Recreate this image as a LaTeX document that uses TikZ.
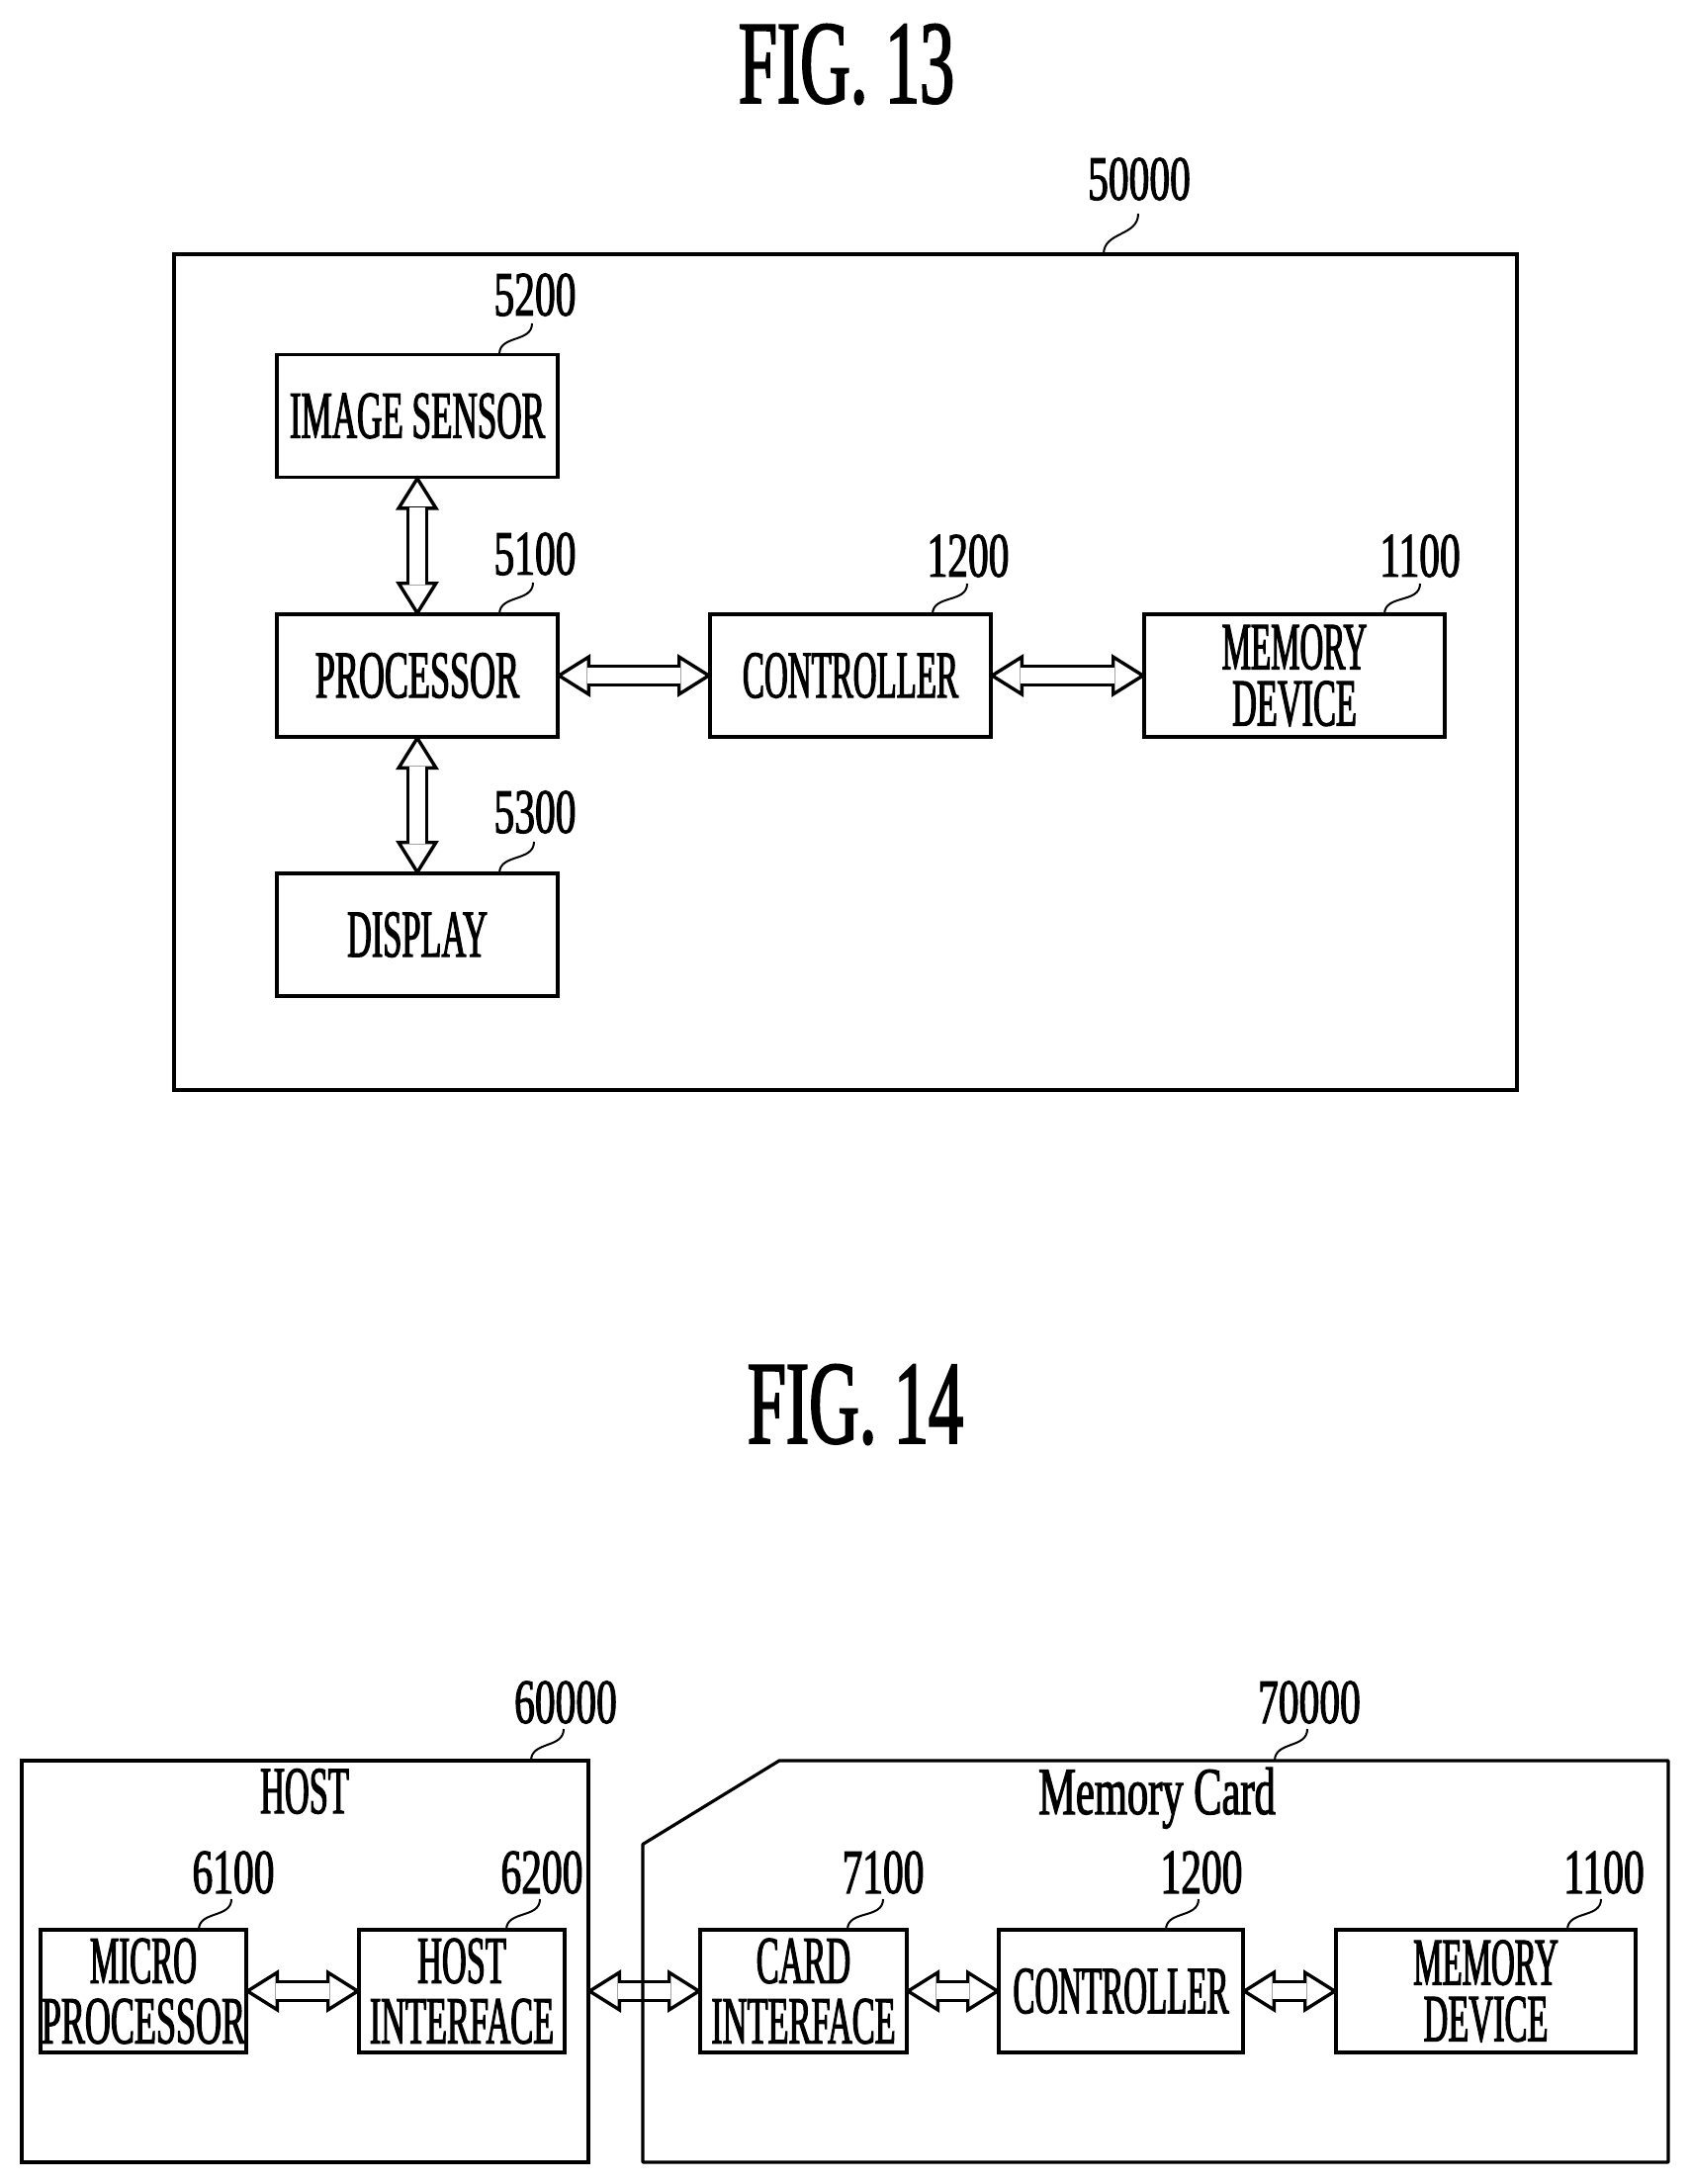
\documentclass[tikz,border=0pt]{standalone}
\usepackage{fontspec}
\usetikzlibrary{arrows.meta,calc}
\newfontfamily\capfont[FakeStretch=0.505,FakeBold=1.6]{Liberation Serif}
\newfontfamily\capm[FakeStretch=0.516,FakeBold=1.6]{Liberation Serif}
\newfontfamily\capw[FakeStretch=0.53,FakeBold=1.6]{Liberation Serif}
\newfontfamily\capn[FakeStretch=0.485,FakeBold=1.6]{Liberation Serif}
\newfontfamily\numfont[FakeStretch=0.648,FakeBold=1.6]{Liberation Serif}
\newfontfamily\ttlfont[FakeStretch=0.585,FakeBold=1.6]{Liberation Serif}
\newfontfamily\lowfont[FakeStretch=0.625,FakeBold=1.6]{Liberation Serif}
\tikzset{
  outerbox/.style={draw=black,line width=3.2pt,rectangle,inner sep=0pt,outer sep=0pt,anchor=north west},
  blockbox/.style={draw=black,line width=3.2pt,rectangle,inner sep=0pt,outer sep=0pt,align=center,
    font=\fontsize{68}{57}\capfont\selectfont},
  reflabel/.style={inner sep=0pt,outer sep=0pt,font=\fontsize{64}{64}\numfont\selectfont},
  titlelabel/.style={inner sep=0pt,outer sep=0pt,font=\fontsize{120}{120}\ttlfont\selectfont},
  caplabel/.style={inner sep=0pt,outer sep=0pt,font=\fontsize{68}{68}\capfont\selectfont},
  leader/.style={draw=black,line width=2pt,out=90,in=-90,looseness=1.1},
  dblarrow/.style={draw=none,
    preaction={draw=black,line width=3.4pt,shorten <=-2pt,shorten >=-2pt,
      {Triangle[open,fill=white,length=35pt,width=43pt,line width=3.4pt]}-{Triangle[open,fill=white,length=35pt,width=43pt,line width=3.4pt]}},
    postaction={draw=black,double=white,double distance=16pt,line width=3.4pt,shorten <=30pt,shorten >=30pt}},
}
\begin{document}
\begin{tikzpicture}[x=1pt,y=-1pt]
\useasboundingbox (0,0) rectangle (1709,2208);
\fill[white] (0,0) rectangle (1709,2208);
% FIG. 13
\node[titlelabel] (t13) at (856,65) {FIG. 13};
\node[outerbox,minimum width=1358pt,minimum height=845pt] (sys) at (176,257) {};
\node[blockbox,minimum width=284pt,minimum height=124pt] (img) at (422,420.5) {{\capm IMAGE SENSOR}};
\node[blockbox,minimum width=284pt,minimum height=124pt] (proc) at (422,683) {{\capw PROCESSOR}};
\node[blockbox,minimum width=284pt,minimum height=124pt] (disp) at (422,945) {DISPLAY};
\node[blockbox,minimum width=284pt,minimum height=124pt] (ctrl) at (860,683) {{\capn CONTROLLER}};
\node[blockbox,minimum width=304pt,minimum height=124pt] (mem) at (1309,683) {{\capn MEMORY}\\DEVICE};
\draw[dblarrow] (img.south) -- (proc.north);
\draw[dblarrow] (proc.south) -- (disp.north);
\draw[dblarrow] (proc.east) -- (ctrl.west);
\draw[dblarrow] (ctrl.east) -- (mem.west);
\node[reflabel] (l50000) at (1152,181) {50000};
\node[reflabel] (l5200) at (541,298) {5200};
\node[reflabel] (l5100) at (541,560) {5100};
\node[reflabel] (l5300) at (541,821) {5300};
\node[reflabel] (l1200a) at (979,562) {1200};
\node[reflabel] (l1100a) at (1436,562) {1100};
\coordinate (a1) at (1116,257); \coordinate (b1) at (1151,216);
\coordinate (a2) at (505,358);  \coordinate (b2) at (538,327);
\coordinate (a3) at (505,621);  \coordinate (b3) at (539,589);
\coordinate (a4) at (505,883);  \coordinate (b4) at (540,851);
\coordinate (a5) at (943,621);  \coordinate (b5) at (978,590);
\coordinate (a6) at (1400,621); \coordinate (b6) at (1436,590);
\foreach \i in {1,...,6} {\draw[leader] (a\i) to (b\i);}
% FIG. 14
\node[titlelabel] (t14) at (865,1420) {FIG. 14};
\node[outerbox,minimum width=573pt,minimum height=406pt] (host) at (22,1780) {};
\node[blockbox,minimum width=208pt,minimum height=124pt] (micro) at (145,2013) {{\capn MICRO}\\[4pt]{\capw PROCESSOR}};
\node[blockbox,minimum width=208pt,minimum height=124pt] (hif) at (467,2013) {HOST\\[4pt]INTERFACE};
\node[blockbox,minimum width=209pt,minimum height=124pt] (cif) at (812.5,2013) {CARD\\[4pt]INTERFACE};
\node[blockbox,minimum width=247pt,minimum height=124pt] (ctrlb) at (1133.5,2013) {{\capn CONTROLLER}};
\node[blockbox,minimum width=303pt,minimum height=124pt] (memb) at (1502.5,2013) {{\capn MEMORY}\\DEVICE};
\draw[dblarrow] (micro.east) -- (hif.west);
\draw[dblarrow] (host.east |- hif.east) -- (cif.west);
\draw[dblarrow] (cif.east) -- (ctrlb.west);
\draw[dblarrow] (ctrlb.east) -- (memb.west);
\coordinate (c1) at (650,2186); \coordinate (c2) at (650,1864.5); \coordinate (c3) at (788,1780);
\coordinate (c4) at (1687,1780); \coordinate (c5) at (1687,2186);
\draw[line width=3.2pt,line join=round] (c1) -- (c2) -- (c3) -- (c4) -- (c5) -- cycle;
\node[caplabel] (hostt) at (308,1811) {HOST};
\node[caplabel,anchor=base,font=\fontsize{68}{68}\lowfont\selectfont] (cardt) at (1170,1834) {Memory Card};
\node[reflabel] (l60000) at (572,1721) {60000};
\node[reflabel] (l70000) at (1324,1721) {70000};
\node[reflabel] (l6100) at (236,1893) {6100};
\node[reflabel] (l6200) at (548,1893) {6200};
\node[reflabel] (l7100) at (893,1893) {7100};
\node[reflabel] (l1200b) at (1215,1893) {1200};
\node[reflabel] (l1100b) at (1622,1893) {1100};
\coordinate (p1) at (537,1780);  \coordinate (q1) at (570,1748);
\coordinate (p2) at (1289,1780); \coordinate (q2) at (1322,1748);
\coordinate (p3) at (201,1951);  \coordinate (q3) at (234,1920);
\coordinate (p4) at (512,1951);  \coordinate (q4) at (546,1920);
\coordinate (p5) at (857,1951);  \coordinate (q5) at (893,1920);
\coordinate (p6) at (1179,1951); \coordinate (q6) at (1212,1920);
\coordinate (p7) at (1585,1951); \coordinate (q7) at (1619,1920);
\foreach \i in {1,...,7} {\draw[leader] (p\i) to (q\i);}
\end{tikzpicture}
\end{document}
